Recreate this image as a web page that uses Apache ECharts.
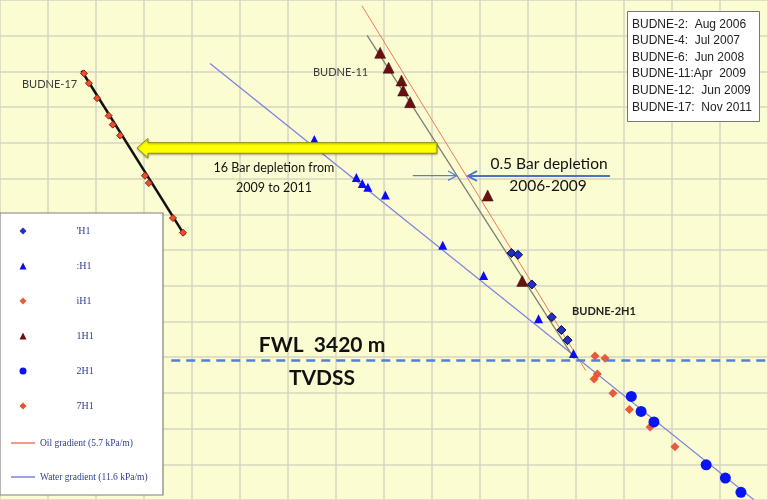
<!DOCTYPE html>
<html><head><meta charset="utf-8">
<script src="https://cdn.jsdelivr.net/npm/echarts@6/dist/echarts.min.js"></script>
<style>html,body{margin:0;padding:0;background:#fcfcd2}#c{width:768px;height:500px}</style>
</head><body><div id="c"></div>
<script>
// ---- data (pressure in bar, depth in m TVDSS) ----
const seriesNames = ['BUDNE-2H1', 'BUDNE-4H1', 'BUDNE-6H1', 'BUDNE-11H1', 'BUDNE-12H1', 'BUDNE-17H1'];
const legendLabels = ["'H1", ':H1', 'iH1', '1H1', '2H1', '7H1'];
const budne2 = [[324.14,3361.7],[324.48,3362.7],[325.20,3379.3],[326.24,3397.6],[326.74,3404.8],[327.06,3410.5]];
const budne4 = [[313.87,3298.1],[316.06,3319.4],[316.37,3322.7],[316.66,3324.9],[317.57,3329.2],[320.56,3357.3],[322.69,3374.3],[325.55,3398.5],[327.37,3417.9]];
const budne6 = [[328.49,3419.3],[329.01,3420.6],[328.61,3429.4],[328.44,3432.2],[329.42,3440.2],[330.28,3449.3],[331.36,3459.1],[332.65,3470.2]];
const budne11 = [[317.30,3249.6],[317.74,3257.9],[318.41,3265.1],[318.50,3270.7],[318.86,3277.2],[322.90,3329.5],[324.70,3377.3]];
const budne12 = [[330.38,3442.0],[330.89,3450.4],[331.56,3456.3],[334.28,3480.3],[335.28,3487.7],[336.09,3495.7]];
const budne17 = [[301.87,3261.1],[302.13,3266.6],[302.56,3275.0],[303.16,3284.8],[303.37,3289.8],[303.76,3295.9],[305.05,3318.4],[305.25,3322.5],[306.51,3342.1],[307.03,3350.3]];
const budne17Trend = [[301.75,3259.6],[307.11,3351.7]];
const budne11Trend = [[316.62,3239.8],[327.42,3421.0]];
const oilGradient = [[316.35,3223.2],[328.01,3427.6]];
const waterGradient = [[308.44,3255.5],[336.76,3499.8]];
const lineNames = ['Oil gradient (5.7 kPa/m)', 'Water gradient (11.6 kPa/m)'];
const fwlDepth = 3421.7;
const fwlStartPressure = 306.42;
const infoLines = ['BUDNE-2:  Aug 2006', 'BUDNE-4:  Jul 2007', 'BUDNE-6:  Jun 2008', 'BUDNE-11:Apr  2009', 'BUDNE-12:  Jun 2009', 'BUDNE-17:  Nov 2011'];

const chart = echarts.init(document.getElementById('c'));
const scatterStyles = [
  {symbol:'diamond', size:9, color:'#2030c8', border:'#0a0a40', bw:1},
  {symbol:'triangle', size:9, color:'#0a0aff', border:'#0a0aff', bw:0},
  {symbol:'diamond', size:9, color:'#e85a3c', border:'#e85a3c', bw:0},
  {symbol:'triangle', size:11, color:'#6a1010', border:'#3a0505', bw:0.5},
  {symbol:'circle', size:11, color:'#0a14f0', border:'#0a14f0', bw:0},
  {symbol:'diamond', size:7, color:'#e8502f', border:'#9a2010', bw:1}
];
const scatterData = [budne2, budne4, budne6, budne11, budne12, budne17];
const labelMap = {};
seriesNames.forEach((n,i)=>labelMap[n]=legendLabels[i]);

const series = [];
series.push({name:lineNames[0], type:'line', data:oilGradient, showSymbol:false, symbol:'none', color:'#f07a5a', lineStyle:{width:1, color:'#f07a5a'}, z:2, animation:false});
series.push({name:lineNames[1], type:'line', data:waterGradient, showSymbol:false, symbol:'none', color:'#7c84e0', lineStyle:{width:1.3, color:'#7c84e0'}, z:2, animation:false,
  markLine:{silent:true, symbol:'none', label:{show:false}, lineStyle:{type:[9,6], width:2.5, color:'#5580d0'},
    data:[[{coord:[fwlStartPressure, fwlDepth]},{coord:[337.5, fwlDepth]}]]}});
series.push({name:'BUDNE-11 trend', type:'line', data:budne11Trend, showSymbol:false, symbol:'none', lineStyle:{width:1.2, color:'#7a7a70'}, z:2, animation:false});
series.push({name:'BUDNE-17 trend', type:'line', data:budne17Trend, showSymbol:false, symbol:'none', lineStyle:{width:2.5, color:'#111111'}, z:2, animation:false});
seriesNames.forEach((n,i)=>{
  const s = scatterStyles[i];
  series.push({name:n, type:'scatter', data:scatterData[i], symbol:s.symbol, symbolSize:s.size,
    itemStyle:{color:s.color, borderColor:s.border, borderWidth:s.bw, opacity:1}, z:3, animation:false});
});

const annFont = 'Lato, "Noto Sans", sans-serif';
const option = {
  backgroundColor:'#fcfcd2',
  animation:false,
  title:{text:infoLines.join('\n'), left:627, top:11, padding:[5,8,6,5], backgroundColor:'#ffffff', borderColor:'#777777', borderWidth:1,
    textStyle:{fontFamily:'"Liberation Sans", Arial, sans-serif', fontSize:12, fontWeight:'normal', color:'#222222', lineHeight:16.6}},
  grid:{left:-3, right:-4.4, top:-4, bottom:-0.4},
  xAxis:{type:'value', min:297.5, max:337.5, interval:2.5, axisLabel:{show:false}, axisTick:{show:false}, axisLine:{show:false},
    splitLine:{show:true, lineStyle:{color:'#d6d6c0', width:1.5}}},
  yAxis:{type:'value', inverse:true, min:3220, max:3500, interval:20, axisLabel:{show:false}, axisTick:{show:false}, axisLine:{show:false},
    splitLine:{show:true, lineStyle:{color:'#d6d6c0', width:1.5}}},
  legend:[
    {data:seriesNames, orient:'vertical', left:14.5, top:220, itemWidth:7, itemHeight:7, itemGap:23, selectedMode:false, z:5,
      itemStyle:{borderWidth:0},
      formatter:n=>'{s|}{t|'+labelMap[n]+'}',
      textStyle:{rich:{s:{width:45, height:12}, t:{fontFamily:'"Liberation Serif", "Times New Roman", serif', fontSize:10, color:'#2d3d95', lineHeight:12}}}},
    {data:lineNames.map(n=>({name:n, icon:'rect'})), orient:'vertical', left:6, top:432, itemWidth:24, itemHeight:1.5, itemGap:22, selectedMode:false, z:5,
      textStyle:{fontFamily:'"Liberation Serif", "Times New Roman", serif', fontSize:9.5, color:'#2d3d95', lineHeight:12}}
  ],
  graphic:[
    {type:'rect', shape:{x:0, y:213, width:163, height:282}, style:{fill:'#ffffff', stroke:'#808080', lineWidth:1.2}, z:3, silent:true},
    {type:'polygon', shape:{points:[[137,148],[148,138.5],[148,142.7],[437,142.7],[437,153.3],[148,153.3],[148,158]]},
      style:{fill:'#ffff00', stroke:'#8c8c1a', lineWidth:1, shadowBlur:2, shadowOffsetY:1, shadowColor:'rgba(0,0,0,0.3)'}, z:4, silent:true},
    {type:'line', shape:{x1:412.7, y1:175.7, x2:456.7, y2:175.7}, style:{stroke:'#5b7bd5', lineWidth:1.2}, z:4, silent:true},
    {type:'polyline', shape:{points:[[448,171],[456.7,175.7],[448,180.4]]}, style:{stroke:'#5b7bd5', lineWidth:1.2, fill:null}, z:4, silent:true},
    {type:'line', shape:{x1:468, y1:176, x2:610, y2:176}, style:{stroke:'#4a72cc', lineWidth:2}, z:4, silent:true},
    {type:'polyline', shape:{points:[[477,171],[468,176],[477,181]]}, style:{stroke:'#4a72cc', lineWidth:2, fill:null}, z:4, silent:true},
    {type:'text', x:22, y:84, style:{text:'BUDNE-17', font:'11px '+annFont, fill:'#3a3a3a', textVerticalAlign:'middle'}, z:5, silent:true},
    {type:'text', x:313, y:72, style:{text:'BUDNE-11', font:'11px '+annFont, fill:'#3a3a3a', textVerticalAlign:'middle'}, z:5, silent:true},
    {type:'text', x:572, y:311, style:{text:'BUDNE-2H1', font:'bold 11px '+annFont, fill:'#222222', textVerticalAlign:'middle'}, z:5, silent:true},
    {type:'text', x:274, y:168, style:{text:'16 Bar depletion from', font:'12.5px '+annFont, fill:'#111111', textAlign:'center', textVerticalAlign:'middle'}, z:5, silent:true},
    {type:'text', x:274, y:188, style:{text:'2009 to 2011', font:'12.5px '+annFont, fill:'#111111', textAlign:'center', textVerticalAlign:'middle'}, z:5, silent:true},
    {type:'text', x:549, y:164, style:{text:'0.5 Bar depletion', font:'15.5px '+annFont, fill:'#111111', textAlign:'center', textVerticalAlign:'middle'}, z:5, silent:true},
    {type:'text', x:548, y:186, style:{text:'2006-2009', font:'15.5px '+annFont, fill:'#111111', textAlign:'center', textVerticalAlign:'middle'}, z:5, silent:true},
    {type:'text', x:322, y:345, style:{text:'FWL  3420 m', font:'bold 21px '+annFont, fill:'#111111', textAlign:'center', textVerticalAlign:'middle'}, z:5, silent:true},
    {type:'text', x:322, y:378, style:{text:'TVDSS', font:'bold 21px '+annFont, fill:'#111111', textAlign:'center', textVerticalAlign:'middle'}, z:5, silent:true}
  ],
  series:series
};
chart.setOption(option);
</script>
</body></html>
